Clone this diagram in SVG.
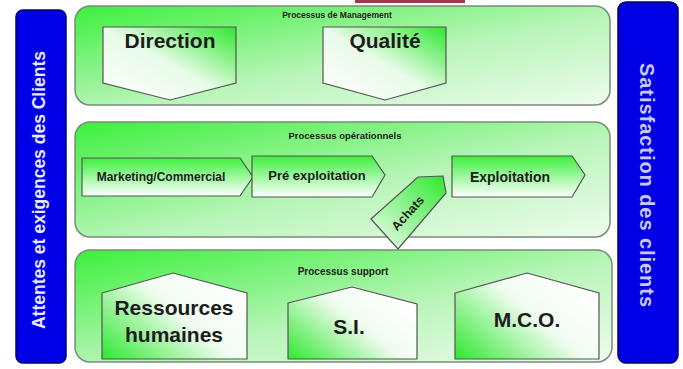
<svg xmlns="http://www.w3.org/2000/svg" width="683" height="369" viewBox="0 0 683 369">
<defs>
<linearGradient id="gPanel" x1="0" y1="0" x2="1" y2="1">
<stop offset="0" stop-color="#3cf03c"/>
<stop offset="0.55" stop-color="#b8f5b8"/>
<stop offset="1" stop-color="#eefcee"/>
</linearGradient>
<linearGradient id="gDown" x1="0" y1="1" x2="1" y2="0">
<stop offset="0" stop-color="#ffffff"/>
<stop offset="0.5" stop-color="#e8fbe8"/>
<stop offset="1" stop-color="#2ee82e"/>
</linearGradient>
<linearGradient id="gVert" x1="0" y1="0" x2="0" y2="1">
<stop offset="0" stop-color="#3cf03c"/>
<stop offset="1" stop-color="#ffffff"/>
</linearGradient>
<linearGradient id="gHouse" x1="0" y1="1" x2="1" y2="0.3">
<stop offset="0" stop-color="#2ee82e"/>
<stop offset="0.6" stop-color="#f0fcf0"/>
<stop offset="1" stop-color="#ffffff"/>
</linearGradient>
<linearGradient id="gAchats" x1="0" y1="1" x2="1" y2="0">
<stop offset="0" stop-color="#f4fff4"/>
<stop offset="1" stop-color="#2ee82e"/>
</linearGradient>
<style>
.panel{fill:url(#gPanel);stroke:#7a8a7a;stroke-width:1.5}
.shape{stroke:#555;stroke-width:1.2}
.bar{fill:#0000e6;stroke:#00006a;stroke-width:1.5}
.t{font-family:"Liberation Sans",Arial,sans-serif;font-weight:bold;fill:#1c1c1c;text-anchor:middle}
.big{font-size:21px}
.bt{font-family:"Liberation Sans",Arial,sans-serif;font-weight:bold;text-anchor:middle}
</style>
</defs>
<rect x="0" y="0" width="683" height="369" fill="#ffffff"/>
<rect x="355" y="0" width="110" height="3" fill="#9a3a4a"/>

<g id="left-bar">
<rect class="bar" x="16" y="10" width="50" height="353" rx="7"/>
<text class="bt" transform="translate(45,190) rotate(-90)" font-size="17.5" fill="#e8e8ff">Attentes et exigences des Clients</text>
</g>
<g id="right-bar">
<rect class="bar" x="618" y="2" width="60" height="361" rx="8"/>
<text class="bt" transform="translate(640,185) rotate(90)" font-size="20" fill="#c8c8ff" textLength="244" lengthAdjust="spacing">Satisfaction  des clients</text>
</g>

<g id="management">
<rect class="panel" x="75" y="6" width="535" height="99" rx="15"/>
<text class="t" font-size="8.5" x="337" y="18">Processus de Management</text>
</g>
<g id="direction">
<path class="shape" fill="url(#gDown)" d="M103,27 H236 V83 L170,100 L103,83 Z"/>
<text class="t big" x="170" y="48">Direction</text>
</g>
<g id="qualite">
<path class="shape" fill="url(#gDown)" d="M323,27 H446 V83 L385,100 L323,83 Z"/>
<text class="t big" x="385" y="48">Qualité</text>
</g>

<g id="operationnels">
<rect class="panel" x="75" y="122" width="535" height="115" rx="15"/>
<text class="t" font-size="9.5" x="345" y="139">Processus opérationnels</text>
</g>
<g id="marketing">
<path class="shape" fill="url(#gVert)" d="M82,158 H240 L253,177 L240,196 H82 Z"/>
<text class="t" font-size="12" x="161" y="181">Marketing/Commercial</text>
</g>
<g id="pre-exploitation">
<path class="shape" fill="url(#gVert)" d="M252,156 H372 L385,175 L372,197 H252 Z"/>
<text class="t" font-size="13" x="317" y="180">Pré exploitation</text>
</g>
<g id="exploitation">
<path class="shape" fill="url(#gVert)" d="M452,156 H572 L585,175 L572,197 H452 Z"/>
<text class="t" font-size="14" x="510" y="182">Exploitation</text>
</g>
<g id="achats">
<path class="shape" fill="url(#gAchats)" d="M371,219 L418,177 L443,176 L446,193 L398,249 Z"/>
<text class="t" font-size="12.5" transform="translate(411,216) rotate(-48)">Achats</text>
</g>

<g id="support">
<rect class="panel" x="75" y="250" width="537" height="112" rx="15"/>
<text class="t" font-size="10" x="343" y="275">Processus support</text>
</g>
<g id="rh">
<path class="shape" fill="url(#gHouse)" d="M102,293 L173,273 L247,293 V359 H102 Z"/>
<text class="t big" x="174" y="315">Ressources</text>
<text class="t big" x="174" y="342">humaines</text>
</g>
<g id="si">
<path class="shape" fill="url(#gHouse)" d="M288,303 L352,287 L417,304 V359 H288 Z"/>
<text class="t big" x="349" y="334">S.I.</text>
</g>
<g id="mco">
<path class="shape" fill="url(#gHouse)" d="M455,293 L527,273 L599,293 V359 H455 Z"/>
<text class="t big" x="527" y="327">M.C.O.</text>
</g>
<g id="connectors"></g>
</svg>
